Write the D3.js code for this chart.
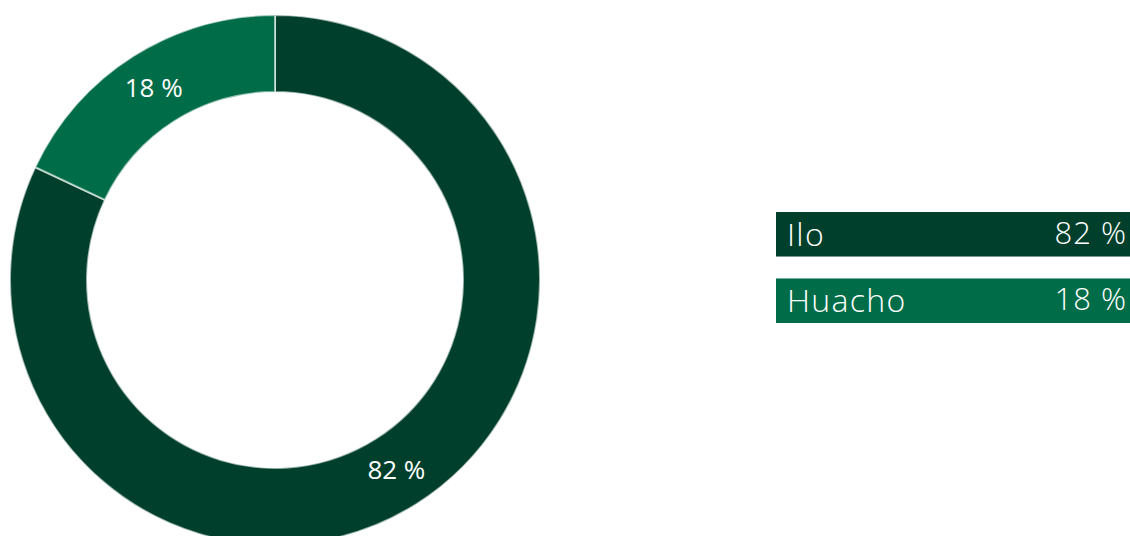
<!DOCTYPE html>
<html><head><meta charset="utf-8">
<script src="https://cdn.jsdelivr.net/npm/d3@7"></script>
<style>html,body{margin:0;padding:0;background:#fff;overflow:hidden}</style>
</head><body>
<svg id="chart" width="1130" height="536"></svg>
<script>
const categories = ["Ilo", "Huacho"];
const values = [82, 18];
const colors = ["#003f2b", "#006c48"];

const svg = d3.select("#chart");
const cx = 275, cy = 280, outerR = 265, innerR = 188;

const pie = d3.pie().sort(null).value(d => d.value);
const arcs = pie(categories.map((c, i) => ({cat: c, value: values[i], color: colors[i]})));
const arc = d3.arc().innerRadius(innerR).outerRadius(outerR);

const g = svg.append("g").attr("transform", `translate(${cx},${cy})`);
g.selectAll("path").data(arcs).enter().append("path")
  .attr("d", arc)
  .attr("fill", d => d.data.color)
  .attr("stroke", "rgba(255,255,255,0.6)")
  .attr("stroke-width", 2);

g.selectAll("text").data(arcs).enter().append("text")
  .attr("transform", d => { const c = arc.centroid(d); return `translate(${c[0]},${c[1] - 2})`; })
  .attr("text-anchor", "middle")
  .attr("dominant-baseline", "central")
  .attr("fill", "#fff")
  .attr("font-family", "'Open Sans', sans-serif")
  .attr("font-size", 26)
  .text(d => d.data.value + " %");

// legend
const legend = svg.append("g");
const ly = d3.scaleBand().domain(categories).range([212, 323]).paddingInner(0.33);
const lx0 = 776, lx1 = 1130;
const items = legend.selectAll("g").data(arcs).enter().append("g")
  .attr("transform", d => `translate(0,${ly(d.data.cat)})`);
items.append("rect")
  .attr("x", lx0).attr("width", lx1 - lx0)
  .attr("height", ly.bandwidth())
  .attr("fill", d => d.data.color);
items.append("text")
  .attr("x", lx0 + 11).attr("y", 34)
  .attr("fill", "#fff")
  .attr("font-family", "'Open Sans', sans-serif")
  .attr("font-weight", 300)
  .attr("font-size", 32)
  .attr("letter-spacing", 1.3)
  .text(d => d.data.cat);
items.append("text")
  .attr("x", lx1 - 3).attr("y", 32)
  .attr("text-anchor", "end")
  .attr("fill", "#fff")
  .attr("font-family", "'Open Sans', sans-serif")
  .attr("font-weight", 300)
  .attr("font-size", 31)
  .attr("letter-spacing", 1)
  .text(d => d.data.value + " %");
</script>
</body></html>
